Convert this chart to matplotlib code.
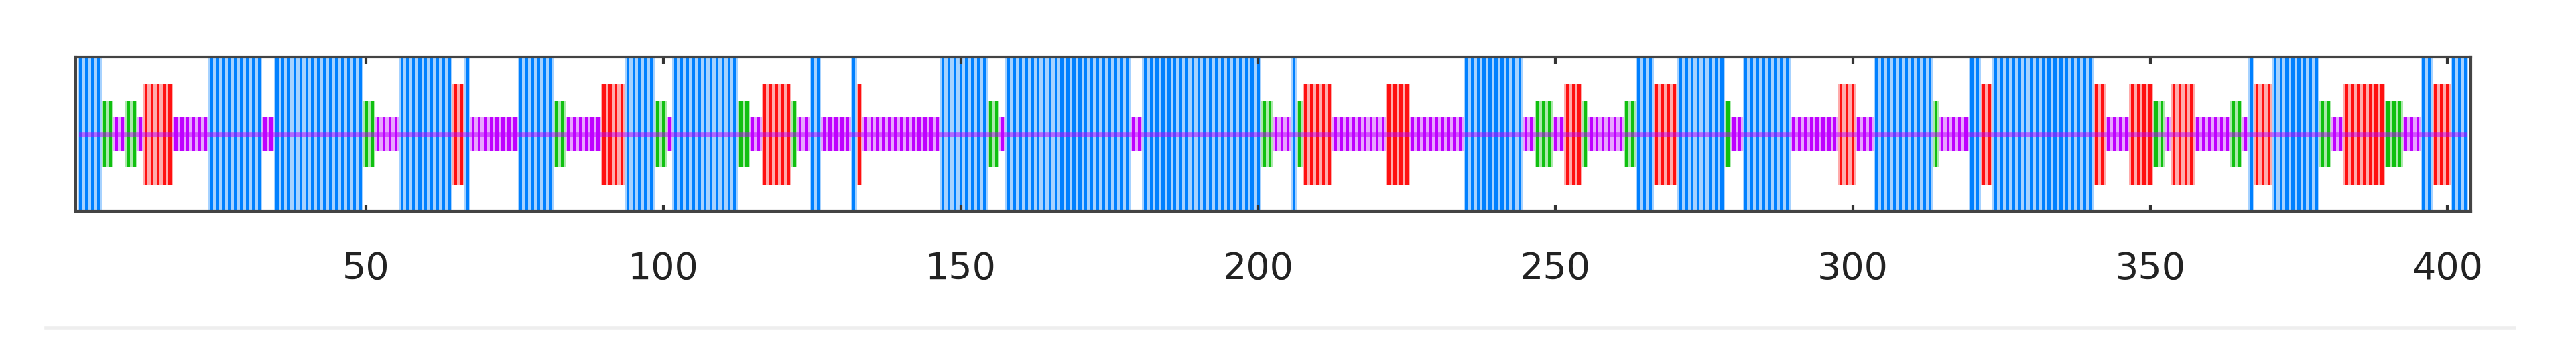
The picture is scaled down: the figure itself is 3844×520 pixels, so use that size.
import matplotlib
matplotlib.use("Agg")
import matplotlib.pyplot as plt
from matplotlib.lines import Line2D
import numpy as np

# residue runs: (first residue, last residue, class)
# B = hydrophobic (blue), R = charged (red), G = polar (green), M = other (magenta)
runs = [
    (2, 5, "B"), (6, 7, "G"), (8, 9, "M"), (10, 11, "G"), (12, 12, "M"),
    (13, 17, "R"), (18, 23, "M"), (24, 32, "B"), (33, 34, "M"), (35, 49, "B"),
    (50, 51, "G"), (52, 55, "M"), (56, 64, "B"), (65, 66, "R"), (67, 67, "B"),
    (68, 75, "M"), (76, 81, "B"), (82, 83, "G"), (84, 89, "M"), (90, 93, "R"),
    (94, 98, "B"), (99, 100, "G"), (101, 101, "M"), (102, 112, "B"),
    (113, 114, "G"), (115, 116, "M"), (117, 121, "R"), (122, 122, "G"),
    (123, 124, "M"), (125, 126, "B"), (127, 131, "M"), (132, 132, "B"),
    (133, 133, "R"), (134, 146, "M"), (147, 154, "B"), (155, 156, "G"),
    (157, 157, "M"), (158, 178, "B"), (179, 180, "M"), (181, 200, "B"),
    (201, 202, "G"), (203, 205, "M"), (206, 206, "B"), (207, 207, "G"),
    (208, 212, "R"), (213, 221, "M"), (222, 225, "R"), (226, 234, "M"),
    (235, 244, "B"), (245, 246, "M"), (247, 249, "G"), (250, 251, "M"),
    (252, 254, "R"), (255, 255, "G"), (256, 261, "M"), (262, 263, "G"),
    (264, 266, "B"), (267, 270, "R"), (271, 278, "B"), (279, 279, "G"),
    (280, 281, "M"), (282, 289, "B"), (290, 297, "M"), (298, 300, "R"),
    (301, 303, "M"), (304, 313, "B"), (314, 314, "G"), (315, 319, "M"),
    (320, 321, "B"), (322, 323, "R"), (324, 340, "B"), (341, 342, "R"),
    (343, 346, "M"), (347, 350, "R"), (351, 352, "G"), (353, 353, "M"),
    (354, 357, "R"), (358, 363, "M"), (364, 365, "G"), (366, 366, "M"),
    (367, 367, "B"), (368, 370, "R"), (371, 378, "B"), (379, 380, "G"),
    (381, 382, "M"), (383, 389, "R"), (390, 392, "G"), (393, 395, "M"),
    (396, 397, "B"), (398, 400, "R"), (401, 403, "B"),
]
class_height = {"B": 1.0, "R": 0.65, "G": 0.43, "M": 0.22}
class_color = {"B": "#0080ff", "R": "#ff1010", "G": "#10c010", "M": "#bf00ff"}
xticks = [50, 100, 150, 200, 250, 300, 350, 400]

pos = np.concatenate([np.arange(a, b + 1) for a, b, _ in runs])
cls = np.concatenate([[c] * (b - a + 1) for a, b, c in runs])
half = np.array([class_height[c] for c in cls])
cols = [class_color[c] for c in cls]

fig = plt.figure(figsize=(38.44, 5.2), dpi=100)
ax = fig.add_axes([0.0294, 0.392, 0.9297, 0.4445])

# soft full-width bar + narrow solid core gives the striped look
ax.bar(pos, 2 * half, bottom=-half, width=1.0, color=cols, alpha=0.35, lw=0)
ax.bar(pos, 2 * half, bottom=-half, width=0.5, color=cols, lw=0)
ax.plot([pos[0] - 0.3, pos[-1] + 0.3], [0, 0], color="#bf00ff", lw=5.5,
        alpha=0.5, solid_capstyle="butt")

ax.set_xlim(1.15, 403.9)
ax.set_ylim(-1, 1)
ax.set_yticks([])
ax.set_xticks(xticks)
ax.tick_params(axis="x", direction="in", top=True, length=7, width=3,
               color="#333333", labelsize=40, labelcolor="#222222", pad=42)
for s in ax.spines.values():
    s.set_linewidth(3)
    s.set_color("#444444")

fig.add_artist(Line2D([0.018, 0.976], [0.058, 0.058], transform=fig.transFigure,
                      color="#eeeeee", lw=4))

fig.savefig("out.png", dpi=100)
